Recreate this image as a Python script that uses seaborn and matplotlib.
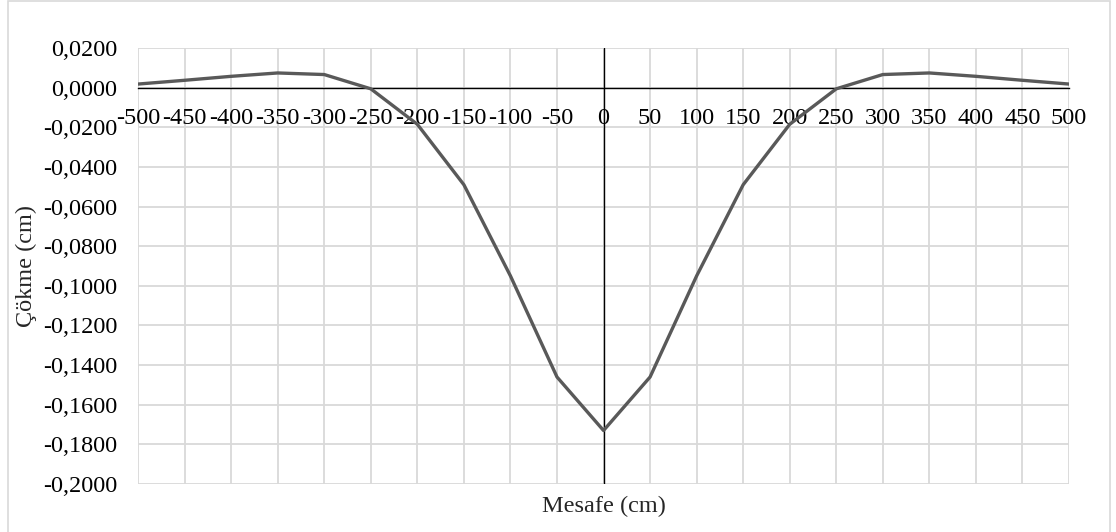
import numpy as np
import pandas as pd
import matplotlib
matplotlib.use("Agg")
import matplotlib.pyplot as plt
from matplotlib.ticker import FuncFormatter, MultipleLocator
from matplotlib.patches import Rectangle
import seaborn as sns

# Veriler
mesafe = [-500, -450, -400, -350, -300, -250, -200, -150, -100, -50, 0,
          50, 100, 150, 200, 250, 300, 350, 400, 450, 500]
cokme = [0.0018, 0.0037, 0.0057, 0.0074, 0.0066, -0.0006, -0.0185, -0.0490,
         -0.0950, -0.1460, -0.1730, -0.1460, -0.0950, -0.0490, -0.0185,
         -0.0006, 0.0066, 0.0074, 0.0057, 0.0037, 0.0018]

df = pd.DataFrame({"Mesafe": mesafe, "Cokme": cokme})

sns.set_style("white")
plt.rcParams['font.family'] = ['Liberation Serif', 'DejaVu Serif']

fig = plt.figure(figsize=(11.16, 5.32), dpi=100)
ax = fig.add_axes([0.1237, 0.0902, 0.8342, 0.8196])

# cerceve
fig.patches.append(Rectangle((8 / 1116, -0.05), (1110 - 8) / 1116, 1.05 - 1 / 532,
                             transform=fig.transFigure, fill=False,
                             edgecolor="#d9d9d9", linewidth=1.2))

sns.lineplot(data=df, x="Mesafe", y="Cokme", ax=ax, color="#595959",
             linewidth=2.4, zorder=4)

ax.set_xlim(-500, 500)
ax.set_ylim(-0.2, 0.02)
ax.xaxis.set_major_locator(MultipleLocator(50))
ax.yaxis.set_major_locator(MultipleLocator(0.02))
ax.yaxis.set_major_formatter(FuncFormatter(lambda v, p: f"{v:.4f}".replace(".", ",")))
ax.xaxis.set_major_formatter(FuncFormatter(lambda v, p: f"{int(round(v))}"))

ax.grid(True, color="#d9d9d9", linewidth=1.3)
ax.set_axisbelow(True)

for s in ["top", "right", "left"]:
    ax.spines[s].set_visible(False)
ax.spines["bottom"].set_position(("data", 0))
ax.spines["bottom"].set_color("black")
ax.spines["bottom"].set_linewidth(1.0)
ax.spines["bottom"].set_zorder(3)
ax.axvline(0, color="black", linewidth=1.0, zorder=3)

ax.tick_params(axis="both", length=0, labelsize=17.5, colors="black")
ax.tick_params(axis="y", pad=15)
ax.tick_params(axis="x", pad=15)

ax.set_xlabel("Mesafe (cm)", fontsize=17.5)
ax.set_ylabel("Çökme (cm)", fontsize=17.5)
ax.xaxis.set_label_coords(0.5, -0.027)
ax.yaxis.set_label_coords(-0.109, 0.5)

fig.savefig("out.png", dpi=100)
